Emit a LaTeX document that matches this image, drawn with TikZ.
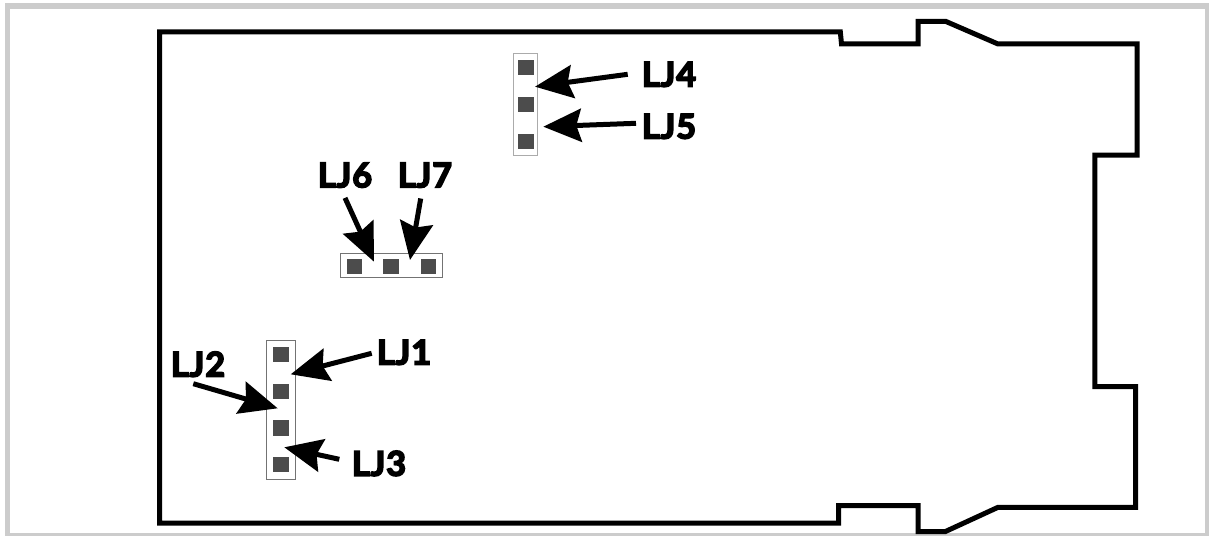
\documentclass[tikz,border=0pt]{standalone}
\usepackage{fontspec}
\setmainfont{Lato}[BoldFont={Lato Bold},BoldFeatures={FakeBold=5,LetterSpace=3}]
\usetikzlibrary{arrows.meta,calc}
\tikzset{
  outline/.style={line width=5pt,line join=miter,draw=black},
  frame/.style={line width=5.2pt,draw=black!20},
  header/.style={draw=#1,line width=1pt,fill=white},
  header/.default={black!55},
  pinpad/.style={fill=black!70,draw=none,minimum size=15.5pt,inner sep=0pt,rectangle},
  lbl/.style={font=\bfseries\fontsize{34}{34}\selectfont,text height=24pt,text depth=0pt,inner sep=0pt,anchor=center},
  callout/.style={line width=5pt,draw=black,-{Stealth[length=38pt,width=33pt,inset=5pt]}}
}
\begin{document}
\begin{tikzpicture}[x=1pt,y=-1pt]
\useasboundingbox (0,0) rectangle (1209,535);
\fill[white] (0,0) rectangle (1209,535);
\draw[frame] (7.5,6) rectangle (1207.5,536);
% board outline
\draw[outline] (159.5,32) -- (840.3,32) -- (841.5,44) -- (918,44) -- (918,21.5) -- (946,21.5) -- (998,44)
  -- (1137,44) -- (1137,155) -- (1094.8,155) -- (1094.8,386.7) -- (1135.7,386.7) -- (1135.7,507.3)
  -- (998,507.3) -- (945,531.7) -- (918,531.7) -- (918,505.5) -- (838.5,505.5) -- (838.5,523)
  -- (159.5,523) -- cycle;
% headers
\node[header,minimum width=29.4pt,minimum height=139pt,inner sep=0pt] (h1) at (281,409.8) {};
\node[header,minimum width=102.4pt,minimum height=24.3pt,inner sep=0pt] (h2) at (391.5,265.2) {};
\node[header=black!33,minimum width=24.4pt,minimum height=102.7pt,inner sep=0pt] (h3) at (525.5,104.6) {};
% pads
\node[pinpad] (p11) at (281,354.7) {};
\node[pinpad] (p12) at (281,391.4) {};
\node[pinpad] (p13) at (281,427.9) {};
\node[pinpad] (p14) at (281,464.7) {};
\node[pinpad] (p21) at (354.4,266.5) {};
\node[pinpad] (p22) at (391,266.5) {};
\node[pinpad] (p23) at (428.3,266.5) {};
\node[pinpad] (p31) at (525.8,67.7) {};
\node[pinpad] (p32) at (525.8,104.4) {};
\node[pinpad] (p33) at (525.8,141.4) {};
% labels
\node[lbl] (lj1) at (404,352.5) {LJ1};
\node[lbl] (lj2) at (198,364.5) {LJ2};
\node[lbl] (lj3) at (379,463.7) {LJ3};
\node[lbl] (lj4) at (669,74.5) {LJ4};
\node[lbl] (lj5) at (669,126.5) {LJ5};
\node[lbl] (lj6) at (345,175.3) {LJ6};
\node[lbl] (lj7) at (425,175.3) {LJ7};
% arrow targets
\coordinate (t1) at (290.7,374.3);
\coordinate (t2) at (277.7,408.3);
\coordinate (t3) at (284.3,447.3);
\coordinate (t4) at (535,86.7);
\coordinate (t5) at (543.3,126.7);
\coordinate (t6) at (374,261.7);
\coordinate (t7) at (410,260);
% arrows
\draw[callout] ($(lj1.center)+(-32.3,0.8)$) -- (t1);
\draw[callout] ($(lj2.south)+(-4.7,7)$) -- (t2);
\draw[callout] ($(lj3.center)+(-39.7,-4.4)$) -- (t3);
\draw[callout] ($(lj4.center)+(-41.3,-0.2)$) -- (t4);
\draw[callout] ($(lj5.center)+(-33,-3.2)$) -- (t5);
\draw[callout] ($(lj6.south)+(0,10.4)$) -- (t6);
\draw[callout] ($(lj7.south)+(-4.3,11)$) -- (t7);
\end{tikzpicture}
\end{document}
